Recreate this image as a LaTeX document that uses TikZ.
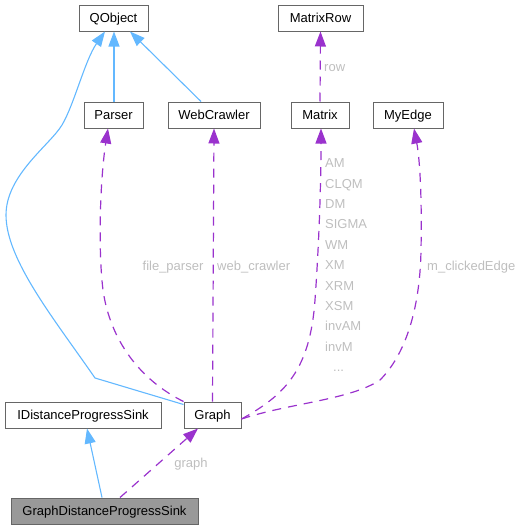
\documentclass[tikz,border=0pt]{standalone}
\usepackage{fontspec}
\setmainfont{Liberation Sans}
\usetikzlibrary{arrows.meta}
\definecolor{inhblue}{HTML}{63B8FF}
\definecolor{usepurple}{HTML}{9A32CD}
\definecolor{boxline}{HTML}{666666}
\definecolor{lblgray}{HTML}{BEBEBE}
\definecolor{mainfill}{HTML}{999999}
\tikzset{
  cls/.style={draw=boxline, line width=1pt, fill=white, minimum height=26pt, inner sep=0pt,
    text height=9.3pt, text depth=0pt, font=\fontsize{13}{15}\selectfont},
  inh/.style={draw=inhblue, line width=1.1pt, -{Triangle[length=15pt,width=11pt]}},
  use/.style={draw=usepurple, line width=1.2pt, dash pattern=on 9pt off 7pt, -{Triangle[length=15pt,width=11pt]}},
  lbl/.style={text=lblgray, inner sep=0pt, font=\fontsize{13}{15}\selectfont},
}
\begin{document}
\begin{tikzpicture}[x=1pt,y=-1pt]
\useasboundingbox (0,0) rectangle (525,530);
% nodes
\node[cls, minimum width=69pt] (qobject) at (113.5,18) {QObject};
\node[cls, minimum width=59pt] (parser) at (113.5,115) {Parser};
\node[cls, minimum width=92pt] (webcrawler) at (214,115) {WebCrawler};
\node[cls, minimum width=85pt] (matrixrow) at (320.5,18) {MatrixRow};
\node[cls, minimum width=58pt] (matrix) at (320,115) {Matrix};
\node[cls, minimum width=70pt] (myedge) at (408,115) {MyEdge};
\node[cls, minimum width=156pt] (idps) at (83,415) {IDistanceProgressSink};
\node[cls, minimum width=57pt] (graph) at (212.5,415) {Graph};
\node[cls, minimum width=187pt, fill=mainfill] (gdps) at (104.5,511) {GraphDistanceProgressSink};
% inheritance
\draw[inh] ([xshift=0.5pt]parser.north) -- ([xshift=0.5pt]qobject.south);
\draw[inh] ([xshift=-13pt]webcrawler.north) -- ([xshift=16.5pt]qobject.south);
\draw[inh] ([yshift=-3pt]graph.north west) -- (95,378)
  .. controls (55,320) and (6,260) .. (6,215)
  .. controls (6,175) and (50,145) .. (62,125)
  .. controls (74,105) and (85,60) .. ([xshift=-8.5pt]qobject.south);
\draw[inh] ([xshift=-2.5pt]gdps.north) -- ([xshift=4pt]idps.south);
% usage
\draw[use] (graph.north west)
  .. controls (140,380) and (110,340) .. (103,290)
  .. controls (98,250) and (100,180) .. ([xshift=-5.5pt]parser.south);
\draw[use] (graph.north) -- (webcrawler.south);
\draw[use] ([yshift=-4pt]graph.east)
  .. controls (285,395) and (310,370) .. (315,300)
  .. controls (320,230) and (321,170) .. ([xshift=1pt]matrix.south);
\draw[use] ([yshift=-4pt]graph.east)
  .. controls (290,403) and (350,400) .. (380,380)
  .. controls (405,355) and (420,310) .. (421,250)
  .. controls (422,200) and (420,160) .. ([xshift=6pt]myedge.south);
\draw[use] (matrix.north) -- (matrixrow.south);
\draw[use] ([xshift=15.5pt]gdps.north) -- ([xshift=-14.5pt]graph.south);
% labels
\node[lbl, anchor=base west] (lrow) at (324,71.7) {row};
\node[lbl, anchor=base] (lfp) at (173,270.7) {file\_parser};
\node[lbl, anchor=base west] (lwc) at (217,270.7) {web\_crawler};
\node[lbl, anchor=base west] (lme) at (427,270.7) {m\_clickedEdge};
\node[lbl, anchor=base] (lgr) at (191,467.7) {graph};
\node[lbl, anchor=base west] (m1) at (325,167.7) {AM};
\node[lbl, anchor=base west] (m2) at (325,188.1) {CLQM};
\node[lbl, anchor=base west] (m3) at (325,208.5) {DM};
\node[lbl, anchor=base west] (m4) at (325,228.9) {SIGMA};
\node[lbl, anchor=base west] (m5) at (325,249.3) {WM};
\node[lbl, anchor=base west] (m6) at (325,269.7) {XM};
\node[lbl, anchor=base west] (m7) at (325,290.1) {XRM};
\node[lbl, anchor=base west] (m8) at (325,310.5) {XSM};
\node[lbl, anchor=base west] (m9) at (325,330.9) {invAM};
\node[lbl, anchor=base west] (m10) at (325,351.3) {invM};
\node[lbl, anchor=base west] (m11) at (333,371.7) {...};
\end{tikzpicture}
\end{document}
